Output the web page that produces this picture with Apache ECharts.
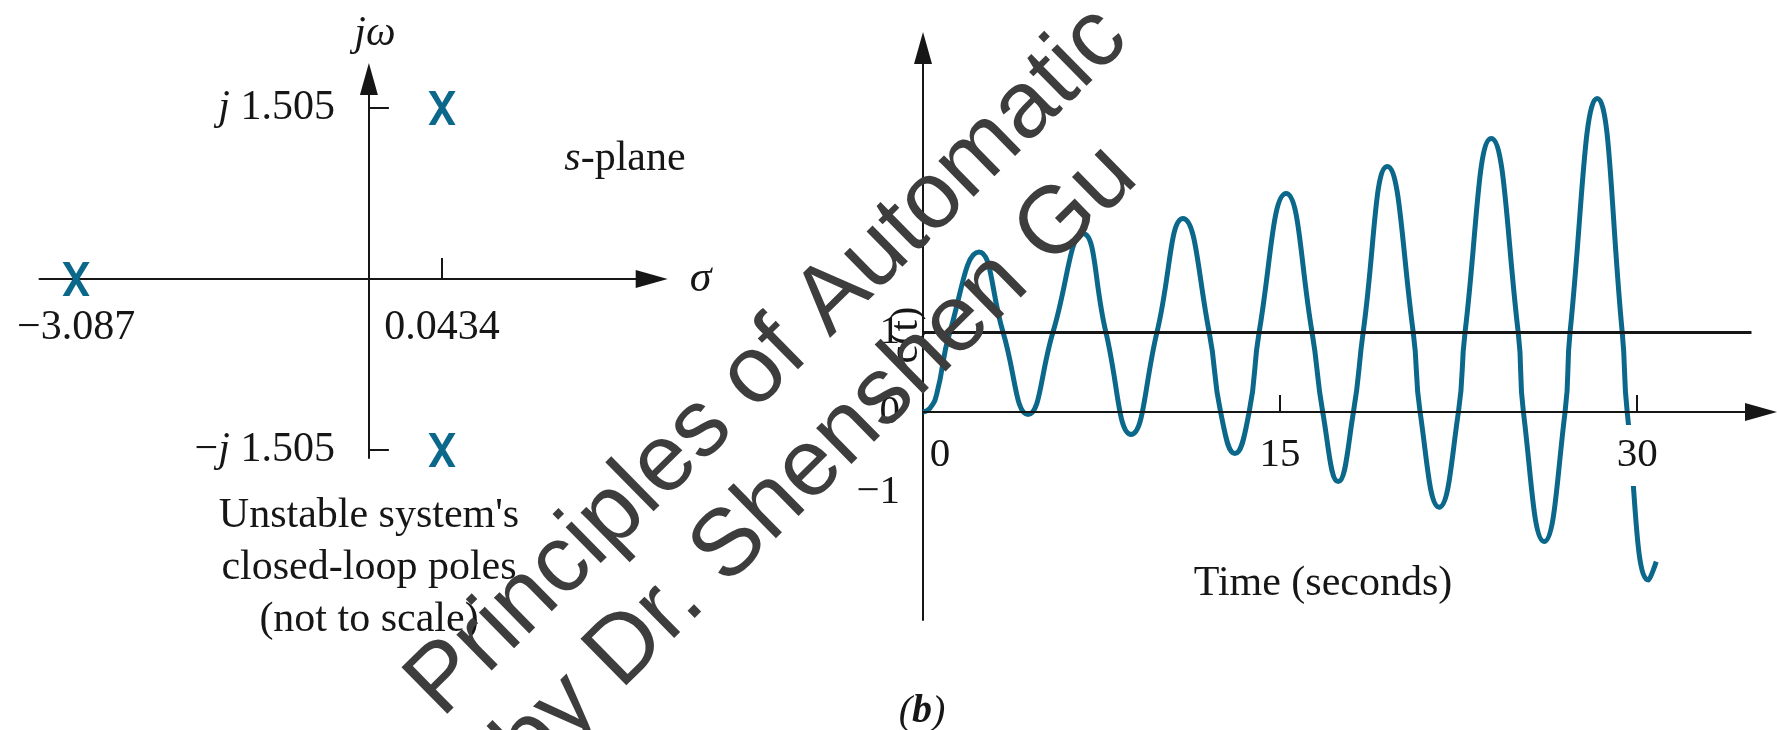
<!DOCTYPE html>
<html>
<head>
<meta charset="utf-8">
<script src="https://cdn.jsdelivr.net/npm/echarts@6/dist/echarts.min.js"></script>
<style>
  html, body { margin: 0; padding: 0; background: #ffffff; }
  #chart { width: 1777px; height: 730px; }
</style>
</head>
<body>
<div id="chart"></div>
<script>
// ---- s-plane: closed-loop poles, placed on an ordinal σ axis (not to scale)
const sigmaSlots = ['', '−3.087', '', '', '', '', '', '', '', '0', '', '0.0434', '', '', '', '', '', ''];
const sigmaTickLabels = ['−3.087', '0.0434'];
const poleSigma = ['−3.087', '0.0434', '0.0434'];
const poleOmega = [0, 1.505, -1.505];
const omegaTicks = [-1.505, 1.505];

// ---- step response c(t) of the unstable closed loop
const timeS = [0, 0.30, 0.58, 1.13, 2.35, 3.36, 4.41, 5.46, 6.72, 7.68,
               8.74, 9.83, 10.92, 12.02, 12.50, 13.10, 13.70, 14.12, 15.25, 16.34,
               16.79, 17.44, 18.08, 18.49, 19.50, 20.59, 20.88, 21.68, 22.49, 22.77,
               23.87, 25.00, 25.22, 26.09, 26.97, 27.18, 28.32, 29.37, 29.58, 30.48,
               30.80];
const cValues = [0, 0.05, 0.23, 1.00, 2.00, 1.00, -0.03, 1.00, 2.23, 1.00,
                 -0.28, 1.00, 2.42, 1.00, 0.00, -0.52, 0.00, 1.00, 2.73, 1.00,
                 0.00, -0.87, 0.00, 1.00, 3.07, 1.00, 0.00, -1.19, 0.00, 1.00,
                 3.42, 1.00, 0.00, -1.62, 0.00, 1.00, 3.92, 1.00, 0.00, -2.10,
                 -1.87];
const timeTicks = [0, 15, 30];
const cTicks = [-1, 0, 1];
const refLevel = 1;

// ---- styling
const TEAL = '#0c688b';
const INK = '#161616';
const SERIF = "'Liberation Serif', 'Times New Roman', serif";
const SANS = "'Liberation Sans', Arial, sans-serif";
const X_MARK = 'path://M0,0 L25,0 L50,43 L75,0 L100,0 L62,62 L100,125 L75,125 L50,82 L25,125 L0,125 L38,62 Z';
const WATERMARK_ANGLE = 44.5 * Math.PI / 180;

// ---- plot boxes
const sPlane = { left: 39.5, top: 79, height: 379, yMin: -1.576, yMax: 1.76 };
const sigmaStep = 36.6;
const resp = { left: 923, top: 48, width: 838, height: 572, tMax: 35.2, cMin: -2.6, cMax: 4.55 };

const sigmaCats = sigmaSlots.map((s, i) => s || ('_' + i));
const zeroSlot = sigmaSlots.indexOf('0');
const axisLineStyle = { color: INK, width: 2 };
const minus = v => (v < 0 ? '−' + (-v) : String(v));
// pixel distance from a grid's bottom edge up to the value 0 on its vertical axis
const zeroLift = (h, lo, hi) => h * (0 - lo) / (hi - lo);

const chart = echarts.init(document.getElementById('chart'), null, { renderer: 'canvas' });

chart.setOption({
  animation: false,
  backgroundColor: '#ffffff',
  grid: [
    { left: sPlane.left, top: sPlane.top, width: sigmaStep * (sigmaSlots.length - 1), height: sPlane.height },
    { left: resp.left, top: resp.top, width: resp.width, height: resp.height }
  ],
  xAxis: [
    {
      gridIndex: 0,
      type: 'category',
      data: sigmaCats,
      boundaryGap: false,
      position: 'bottom',
      offset: -zeroLift(sPlane.height, sPlane.yMin, sPlane.yMax),
      axisLine: {
        onZero: false,
        symbol: ['none', 'triangle'],
        symbolSize: [18, 32],
        symbolOffset: [0, -10],
        lineStyle: axisLineStyle
      },
      axisTick: {
        show: true, inside: true, length: 21,
        interval: (i, v) => v === '0.0434',
        lineStyle: axisLineStyle
      },
      axisLabel: {
        interval: 0, margin: 28,
        formatter: v => (sigmaTickLabels.includes(v) ? v : ''),
        color: INK, fontFamily: SERIF, fontSize: 42, lineHeight: 42
      },
      splitLine: { show: false },
      name: 'σ',
      nameLocation: 'end',
      nameGap: 28,
      nameTextStyle: { fontFamily: SERIF, fontStyle: 'italic', fontSize: 44, color: INK, padding: [0, 0, 10, 0] }
    },
    {
      gridIndex: 1,
      type: 'value',
      min: 0,
      max: resp.tMax,
      z: 5,
      position: 'bottom',
      offset: -zeroLift(resp.height, resp.cMin, resp.cMax),
      axisLine: {
        onZero: false,
        symbol: ['none', 'triangle'],
        symbolSize: [18, 32],
        lineStyle: axisLineStyle
      },
      axisTick: {
        show: true, inside: true, length: 17,
        customValues: timeTicks.filter(v => v !== 0),
        lineStyle: axisLineStyle
      },
      axisLabel: {
        customValues: timeTicks,
        margin: 13,
        formatter: v => (v === 0 ? '{z|0}' : (v === 30 ? '{w|30}' : '{n|' + v + '}')),
        rich: {
          z: { fontFamily: SERIF, fontSize: 41, color: INK, padding: [10, 0, 10, 34] },
          n: { fontFamily: SERIF, fontSize: 41, color: INK, padding: [10, 3, 10, 3] },
          w: { fontFamily: SERIF, fontSize: 41, color: INK, padding: [10, 3, 10, 3], backgroundColor: '#ffffff' }
        }
      },
      splitLine: { show: false }
    }
  ],
  yAxis: [
    {
      gridIndex: 0,
      type: 'value',
      min: sPlane.yMin,
      max: sPlane.yMax,
      position: 'left',
      offset: -sigmaStep * zeroSlot,
      axisLine: {
        show: true, onZero: false,
        symbol: ['none', 'triangle'],
        symbolSize: [18, 32],
        lineStyle: axisLineStyle
      },
      axisTick: { show: true, inside: true, length: 20, customValues: omegaTicks, lineStyle: axisLineStyle },
      axisLabel: {
        customValues: omegaTicks,
        margin: 34,
        formatter: v => (v < 0 ? '−' : '') + '{i|j} ' + Math.abs(v).toFixed(3),
        color: INK, fontFamily: SERIF, fontSize: 42,
        rich: { i: { fontFamily: SERIF, fontStyle: 'italic', fontSize: 42, color: INK } }
      },
      splitLine: { show: false },
      name: 'jω',
      nameLocation: 'end',
      nameGap: 24,
      nameTextStyle: { fontFamily: SERIF, fontStyle: 'italic', fontSize: 42, color: INK, padding: [0, 0, 0, 12] }
    },
    {
      gridIndex: 1,
      type: 'value',
      min: resp.cMin,
      max: resp.cMax,
      position: 'left',
      axisLine: {
        show: true, onZero: false,
        symbol: ['none', 'triangle'],
        symbolSize: [18, 32],
        lineStyle: axisLineStyle
      },
      axisTick: { show: false },
      axisLabel: {
        customValues: cTicks,
        margin: 23,
        formatter: minus,
        color: INK, fontFamily: SERIF, fontSize: 41
      },
      splitLine: { show: false }
    }
  ],
  series: [
    {
      name: 'poles',
      type: 'scatter',
      xAxisIndex: 0,
      yAxisIndex: 0,
      data: poleSigma.map((s, i) => [s, poleOmega[i]]),
      symbol: X_MARK,
      symbolSize: [27, 34],
      itemStyle: { color: TEAL, opacity: 1 },
      z: 3
    },
    {
      name: 'c(t)',
      type: 'line',
      xAxisIndex: 1,
      yAxisIndex: 1,
      data: timeS.map((t, i) => [t, cValues[i]]),
      smooth: true,
      showSymbol: false,
      lineStyle: { color: TEAL, width: 5 },
      z: 2,
      markLine: {
        silent: true,
        symbol: ['none', 'none'],
        label: { show: false },
        lineStyle: { color: INK, width: 3, type: 'solid' },
        data: [[{ coord: [0, refLevel] }, { coord: [34.8, refLevel] }]]
      }
    }
  ],
  graphic: [
    {
      type: 'text', x: 906, y: 335, z: 10,
      rotation: Math.PI / 2,
      style: {
        text: 'c(t)', align: 'center', verticalAlign: 'middle',
        fontFamily: SERIF, fontSize: 41, fill: INK
      }
    },
    {
      type: 'text', x: 625, y: 159, z: 10,
      style: {
        text: '{i|s}-plane', align: 'center', verticalAlign: 'middle',
        fontFamily: SERIF, fontSize: 42, fill: INK,
        rich: { i: { fontFamily: SERIF, fontStyle: 'italic', fontSize: 42, fill: INK } }
      }
    },
    {
      type: 'text', x: 369, y: 568, z: 10,
      style: {
        text: "Unstable system's\nclosed-loop poles\n(not to scale)",
        align: 'center', verticalAlign: 'middle', lineHeight: 52,
        fontFamily: SERIF, fontSize: 42, fill: INK
      }
    },
    {
      type: 'text', x: 1323, y: 584, z: 10,
      style: {
        text: 'Time (seconds)', align: 'center', verticalAlign: 'middle',
        fontFamily: SERIF, fontSize: 42, fill: INK
      }
    },
    {
      type: 'text', x: 922, y: 712, z: 10,
      style: {
        text: '({b|b})', align: 'center', verticalAlign: 'middle',
        fontFamily: SERIF, fontStyle: 'italic', fontSize: 40, fill: INK,
        rich: { b: { fontFamily: SERIF, fontStyle: 'italic', fontWeight: 'bold', fontSize: 40, fill: INK } }
      }
    },
    {
      type: 'text', x: 768, y: 362, z: 100,
      rotation: WATERMARK_ANGLE,
      style: {
        text: 'Principles of Automatic', align: 'center', verticalAlign: 'middle',
        fontFamily: SANS, fontSize: 95, fill: '#3d3d3d'
      }
    },
    {
      type: 'text', x: 817, y: 461, z: 100,
      rotation: WATERMARK_ANGLE,
      style: {
        text: 'by Dr. Shenshen Gu', align: 'center', verticalAlign: 'middle',
        fontFamily: SANS, fontSize: 95, fill: '#3d3d3d'
      }
    }
  ]
});
</script>
</body>
</html>
